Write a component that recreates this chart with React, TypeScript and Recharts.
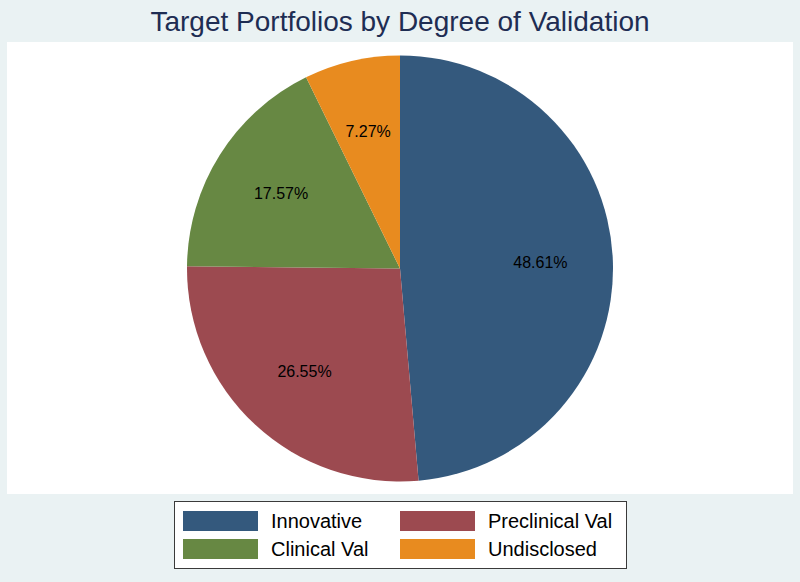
import React from 'react';
import { PieChart, Pie, Cell } from 'recharts';

const categories = ['Innovative', 'Preclinical Val', 'Clinical Val', 'Undisclosed'];
const shares = [48.61, 26.55, 17.57, 7.27];
const colors = ['#34597D', '#9C4A50', '#678843', '#E88B1F'];

const data = categories.map((name, i) => ({ name, value: shares[i] }));

const FONT = '"Liberation Sans", Arial, Helvetica, sans-serif';

const RAD = Math.PI / 180;

const renderLabel = (props: any) => {
  const { cx, cy, midAngle, outerRadius, value } = props;
  const r = outerRadius * 0.66;
  const x = cx + r * Math.cos(-midAngle * RAD);
  const y = cy + r * Math.sin(-midAngle * RAD);
  return (
    <text
      x={x}
      y={y}
      fill="#000"
      textAnchor="middle"
      dominantBaseline="central"
      fontSize={16}
      fontFamily={FONT}
    >
      {`${value.toFixed(2)}%`}
    </text>
  );
};

export default function App() {
  const legendItems = categories.map((c, i) => ({ c, color: colors[i] }));
  return (
    <div
      style={{
        position: 'absolute',
        left: 0,
        top: 0,
        width: 800,
        height: 582,
        background: '#EAF2F3',
        fontFamily: FONT,
        overflow: 'hidden',
      }}
    >
      <div
        style={{
          position: 'absolute',
          left: 0,
          top: 3,
          width: 800,
          textAlign: 'center',
          fontSize: 28,
          color: '#1E2D53',
          lineHeight: '38px',
        }}
      >
        Target Portfolios by Degree of Validation
      </div>
      <div
        style={{
          position: 'absolute',
          left: 7,
          top: 42,
          width: 786,
          height: 452,
          background: '#FFFFFF',
        }}
      />
      <div style={{ position: 'absolute', left: 0, top: 0 }}>
        <PieChart width={800} height={582} margin={{ top: 0, right: 0, bottom: 0, left: 0 }}>
          <Pie
            data={data}
            dataKey="value"
            nameKey="name"
            cx={400}
            cy={268.5}
            outerRadius={213}
            startAngle={90}
            endAngle={-270}
            stroke="none"
            label={renderLabel}
            labelLine={false}
            isAnimationActive={false}
          >
            {data.map((d, i) => (
              <Cell key={d.name} fill={colors[i]} />
            ))}
          </Pie>
        </PieChart>
      </div>
      <div
        style={{
          position: 'absolute',
          left: 174,
          top: 501,
          width: 451,
          height: 66,
          background: '#FFFFFF',
          border: '1px solid #3A3A3A',
        }}
      >
        {legendItems.map((it, i) => {
          const col = i % 2;
          const row = Math.floor(i / 2);
          return (
            <div
              key={it.c}
              style={{
                position: 'absolute',
                left: 8 + col * 217,
                top: 9 + row * 28,
                height: 20,
                display: 'flex',
                alignItems: 'center',
              }}
            >
              <div style={{ width: 75, height: 20, background: it.color }} />
              <div
                style={{
                  marginLeft: 13,
                  fontSize: 20,
                  color: '#000',
                  lineHeight: '20px',
                  whiteSpace: 'nowrap',
                }}
              >
                {it.c}
              </div>
            </div>
          );
        })}
      </div>
    </div>
  );
}
